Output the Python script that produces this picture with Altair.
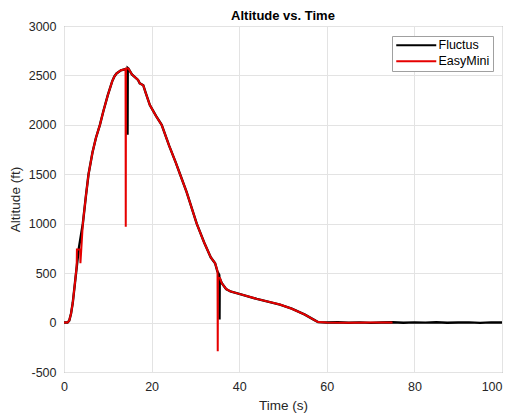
import altair as alt
import pandas as pd

# Fluctus (black)
t_fluctus = [0, 0.8, 1.2, 1.6, 2.0, 2.5, 3.0, 3.35, 4.3, 5.0, 5.6, 6.5, 7.3, 8.2, 9.0, 10.0,
             11.0, 11.5, 12.0, 13.0, 13.9, 14.45, 14.5, 14.55, 14.7, 15.5, 16.9, 17.3, 18.1,
             18.6, 19.6, 21.0, 22.3, 24.0, 25.5, 26.5, 28.0, 30.3, 32.0, 33.5, 34.5, 35.0,
             35.45, 35.5, 35.55, 36.0, 37.0, 38.0, 40.0, 44.0, 49.3, 52.0, 55.0, 57.0, 58.0,
             60.0, 62.5, 65.0, 67.5, 70.0, 72.5, 75.0, 77.5, 80.0, 82.5, 85.0, 87.5, 90.0,
             92.5, 95.0, 97.5, 100.0]
alt_fluctus = [0, 0, 20, 90, 200, 400, 600, 740, 1000, 1280, 1500, 1720, 1870, 2000, 2140, 2300,
               2440, 2490, 2520, 2552, 2562, 2560, 1900, 2575, 2570, 2510, 2455, 2420, 2400,
               2330, 2200, 2090, 2000, 1790, 1620, 1500, 1320, 1000, 810, 660, 600, 520,
               480, 30, 450, 400, 340, 315, 290, 240, 182, 140, 80, 30, 5,
               0, 3, -2, 2, -3, 1, 3, -2, 2, -1, 3, -2, 1, 2, -3, 2, 0]

# EasyMini (red)
t_easymini = [0, 0.8, 1.2, 1.6, 2.0, 2.5, 2.9, 2.95, 3.7, 3.75, 4.3, 5.0, 5.6, 6.5, 7.3, 8.2, 9.0,
              10.0, 11.0, 11.5, 12.0, 13.0, 13.9, 14.05, 14.1, 14.15, 14.7, 15.5, 16.9, 17.3,
              18.1, 18.6, 19.6, 21.0, 22.3, 24.0, 25.5, 26.5, 28.0, 30.3, 32.0, 33.5, 34.5,
              35.05, 35.1, 35.15, 35.6, 36.0, 37.0, 38.0, 40.0, 44.0, 49.3, 52.0, 55.0, 57.0,
              58.0, 60.0, 65.0, 70.0, 75.0]
alt_easymini = [0, 0, 20, 90, 200, 400, 570, 740, 740, 600, 1000, 1280, 1500, 1720, 1870, 2000,
                2140, 2300, 2440, 2490, 2520, 2552, 2562, 2560, 970, 2570, 2570, 2510, 2455,
                2420, 2400, 2330, 2200, 2090, 2000, 1790, 1620, 1500, 1320, 1000, 810, 660,
                600, 520, -290, 460, 450, 400, 340, 315, 290, 240, 182, 140, 80, 30,
                5, 0, -1, 0, 0]

series_names = ["Fluctus", "EasyMini"]
series_colors = ["#000000", "#e60000"]

rows = []
for i, (t, a) in enumerate(zip(t_fluctus, alt_fluctus)):
    rows.append({"t": t, "alt": a, "series": "Fluctus", "i": i})
for i, (t, a) in enumerate(zip(t_easymini, alt_easymini)):
    rows.append({"t": t, "alt": a, "series": "EasyMini", "i": i})
df = pd.DataFrame(rows)

FONT = "Liberation Sans"
TXT = "#262626"

base = alt.Chart(df).encode(
    x=alt.X("t:Q", title="Time (s)",
            scale=alt.Scale(domain=[0, 100], nice=False),
            axis=alt.Axis(values=[0, 20, 40, 60, 80, 100], labelExpr="'' + datum.value",
                          labelFlush=False,
                          labelAlign={"condition": {"test": "datum.value == 100", "value": "right"},
                                      "value": "center"})),
    y=alt.Y("alt:Q", title="Altitude (ft)",
            scale=alt.Scale(domain=[-500, 3000], nice=False),
            axis=alt.Axis(values=[-500, 0, 500, 1000, 1500, 2000, 2500, 3000],
                          labelExpr="'' + datum.value", labelFlush=False)),
    color=alt.Color("series:N", scale=alt.Scale(domain=series_names, range=series_colors),
                    legend=alt.Legend(title=None, orient="none", legendX=328, legendY=10,
                                      symbolType="M-10,0H10", symbolSize=16,
                                      symbolOffset=15,
                                      symbolStrokeWidth=2, labelFont=FONT, labelFontSize=12.5,
                                      labelColor="#000000", fillColor="white",
                                      strokeColor="#a0a0a0", padding=3, rowPadding=3,
                                      labelOffset=16)),
    order=alt.Order("i:Q"),
)

black = base.transform_filter(alt.datum.series == "Fluctus").mark_line(strokeWidth=2.4)
red = base.transform_filter(alt.datum.series == "EasyMini").mark_line(strokeWidth=2)

chart = alt.layer(black, red).properties(
    width=438, height=346,
    title=alt.Title("Altitude vs. Time", font=FONT, fontSize=13, fontWeight="bold",
                    color="#000000", offset=6, dy=9),
    autosize=alt.AutoSizeParams(type="none"),
    padding={"left": 56, "top": 18, "right": 4, "bottom": 44},
).configure_view(
    stroke="#7f7f7f", strokeWidth=1
).configure_axis(
    labelFont=FONT, labelFontSize=12.5, labelColor=TXT,
    titleFont=FONT, titleFontSize=13.5, titleColor=TXT, titleFontWeight="normal",
    grid=True, gridColor="#e3e3e3", gridWidth=1,
    domain=False, ticks=False,
).configure_axisX(labelPadding=8, titlePadding=6).configure_axisY(labelPadding=8, titlePadding=6)

chart.save("out.html", embed_options={"renderer": "svg", "actions": False})
